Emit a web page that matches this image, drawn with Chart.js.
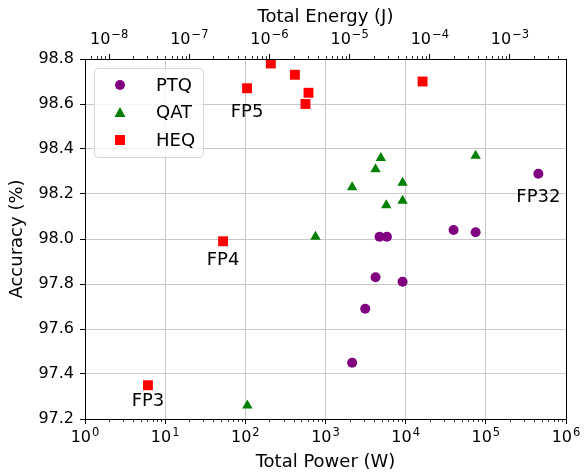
<!DOCTYPE html>
<html>
<head>
<meta charset="utf-8">
<script src="https://cdn.jsdelivr.net/npm/chart.js@4.4.1/dist/chart.umd.min.js"></script>
<style>
  html, body { margin: 0; padding: 0; background: #fff; }
  #wrap { width: 585px; height: 476px; }
</style>
</head>
<body>
<div id="wrap"><canvas id="chart" width="585" height="476"></canvas></div>
<script>
// values
const ptqPower = [2150, 3130, 4210, 4720, 5840, 9150, 39600, 74600, 452000];
const ptqAcc   = [97.45, 97.69, 97.83, 98.01, 98.01, 97.81, 98.04, 98.03, 98.29];

const qatPower = [106, 750, 2150, 4210, 4900, 5730, 9150, 9150, 74600];
const qatAcc   = [97.26, 98.01, 98.23, 98.31, 98.36, 98.15, 98.25, 98.17, 98.37];

const heqPower = [6.1, 52.8, 105, 208, 415, 563, 614, 16250];
const heqAcc   = [97.35, 97.99, 98.67, 98.78, 98.73, 98.60, 98.65, 98.70];

// labelled points: name, dataset index, point index
const fpNames  = ['FP32', 'FP5', 'FP4', 'FP3'];
const fpSeries = [0, 2, 2, 2];
const fpPoint  = [8, 2, 1, 0];

const powerTickExps  = [0, 1, 2, 3, 4, 5, 6];
const energyTickExps = [-8, -7, -6, -5, -4, -3];
const accTicks = [97.2, 97.4, 97.6, 97.8, 98.0, 98.2, 98.4, 98.6, 98.8];

// energy axis is power scaled by a constant factor
const energyPerWatt = 5e-9;

const toXY = (xs, ys) => xs.map((x, i) => ({ x: x, y: ys[i] }));

const FONT = "'DejaVu Sans', sans-serif";
Chart.defaults.font.family = FONT;
Chart.defaults.font.size = 16;
Chart.defaults.color = '#000';

const GRID = '#c8c8c8';

// "10" with a raised exponent, like matplotlib's mathtext labels
function drawPow10(ctx, x, baseline, exp) {
  const e = String(exp).replace('-', '\u2212');
  ctx.font = '16px ' + FONT;
  const wb = ctx.measureText('10').width;
  ctx.font = '11.5px ' + FONT;
  const we = ctx.measureText(e).width;
  const x0 = x - (wb + we + 1) / 2;
  ctx.font = '16px ' + FONT;
  ctx.fillText('10', x0, baseline);
  ctx.font = '11.5px ' + FONT;
  ctx.fillText(e, x0 + wb + 1, baseline - 6.5);
}

const powLabels = {
  id: 'powLabels',
  afterDraw(chart) {
    const ctx = chart.ctx;
    const a = chart.chartArea;
    ctx.save();
    ctx.fillStyle = '#000';
    ctx.textAlign = 'left';
    ctx.textBaseline = 'alphabetic';
    powerTickExps.forEach(e => {
      drawPow10(ctx, chart.scales.x.getPixelForValue(Math.pow(10, e)), a.bottom + 23, e);
    });
    energyTickExps.forEach(e => {
      drawPow10(ctx, chart.scales.x2.getPixelForValue(Math.pow(10, e)), a.top - 15, e);
    });
    ctx.restore();
  }
};

const minorTicks = {
  id: 'minorTicks',
  afterDraw(chart) {
    const ctx = chart.ctx;
    const area = chart.chartArea;
    const xs = chart.scales.x, ts = chart.scales.x2;
    ctx.save();
    ctx.strokeStyle = '#000';
    ctx.lineWidth = 0.8;
    ctx.beginPath();
    for (let k = -10; k <= 7; k++) {
      for (let m = 2; m <= 9; m++) {
        const v = m * Math.pow(10, k);
        if (v > xs.min && v < xs.max) {
          const p = Math.round(xs.getPixelForValue(v)) + 0.5;
          ctx.moveTo(p, area.bottom);
          ctx.lineTo(p, area.bottom + 3);
        }
        if (v > ts.min && v < ts.max) {
          const p = Math.round(ts.getPixelForValue(v)) + 0.5;
          ctx.moveTo(p, area.top);
          ctx.lineTo(p, area.top - 3);
        }
      }
    }
    ctx.stroke();
    ctx.restore();
  }
};

const frame = {
  id: 'frame',
  afterDraw(chart) {
    const ctx = chart.ctx;
    const a = chart.chartArea;
    ctx.save();
    ctx.strokeStyle = '#000';
    ctx.lineWidth = 1;
    ctx.strokeRect(Math.round(a.left) + 0.5, Math.round(a.top) + 0.5,
      Math.round(a.right - a.left), Math.round(a.bottom - a.top));
    ctx.restore();
  }
};

const fpText = {
  id: 'fpText',
  afterDatasetsDraw(chart) {
    const ctx = chart.ctx;
    const dy = { FP32: 24, FP5: 24, FP4: 19, FP3: 16 };
    ctx.save();
    ctx.font = '18px ' + FONT;
    ctx.fillStyle = '#000';
    ctx.textAlign = 'center';
    ctx.textBaseline = 'middle';
    fpNames.forEach((name, i) => {
      const el = chart.getDatasetMeta(fpSeries[i]).data[fpPoint[i]];
      ctx.fillText(name, el.x, el.y + dy[name]);
    });
    ctx.restore();
  }
};

const boxLegend = {
  id: 'boxLegend',
  afterDraw(chart) {
    const ctx = chart.ctx;
    const x0 = 94, y0 = 68, w = 109, h = 89, r = 4;
    ctx.save();
    ctx.beginPath();
    ctx.roundRect(x0 + 0.5, y0 + 0.5, w, h, r);
    ctx.fillStyle = 'rgba(255,255,255,0.8)';
    ctx.fill();
    ctx.strokeStyle = '#d6d6d6';
    ctx.lineWidth = 1;
    ctx.stroke();
    ctx.font = '18px ' + FONT;
    ctx.textAlign = 'left';
    ctx.textBaseline = 'middle';
    chart.data.datasets.forEach((ds, i) => {
      const cy = 85 + i * 27.5, cx = 120;
      ctx.fillStyle = ds.backgroundColor;
      ctx.beginPath();
      if (ds.pointStyle === 'circle') {
        ctx.arc(cx, cy, 5, 0, Math.PI * 2);
      } else if (ds.pointStyle === 'triangle') {
        ctx.moveTo(cx, cy - 5.5);
        ctx.lineTo(cx - 5.5, cy + 4.5);
        ctx.lineTo(cx + 5.5, cy + 4.5);
        ctx.closePath();
      } else {
        ctx.rect(cx - 5, cy - 5, 10, 10);
      }
      ctx.fill();
      ctx.fillStyle = '#000';
      ctx.fillText(ds.label, 156, cy + 1);
    });
    ctx.restore();
  }
};

new Chart(document.getElementById('chart'), {
  type: 'scatter',
  data: {
    datasets: [
      { label: 'PTQ', data: toXY(ptqPower, ptqAcc), pointStyle: 'circle', pointRadius: 5,
        backgroundColor: '#800080', borderColor: '#800080', borderWidth: 0 },
      { label: 'QAT', data: toXY(qatPower, qatAcc), pointStyle: 'triangle', pointRadius: 6,
        backgroundColor: '#008000', borderColor: '#008000', borderWidth: 0 },
      { label: 'HEQ', data: toXY(heqPower, heqAcc), pointStyle: 'rect', pointRadius: 7,
        backgroundColor: '#ff0000', borderColor: '#ff0000', borderWidth: 0 }
    ]
  },
  options: {
    responsive: false,
    animation: false,
    devicePixelRatio: 1,
    layout: { padding: { left: 0, right: 19, top: 0, bottom: 0 } },
    plugins: { legend: { display: false }, tooltip: { enabled: false } },
    scales: {
      x: {
        type: 'logarithmic',
        position: 'bottom',
        min: Math.pow(10, powerTickExps[0]),
        max: Math.pow(10, powerTickExps[powerTickExps.length - 1]),
        afterBuildTicks: s => { s.ticks = powerTickExps.map(e => ({ value: Math.pow(10, e) })); },
        afterFit: s => { s.height = 57; },
        border: { display: false },
        grid: { color: GRID, lineWidth: 1, tickColor: '#000', tickLength: 5 },
        ticks: { display: false },
        title: { display: true, text: 'Total Power (W)', font: { size: 18 }, padding: { top: 0, bottom: 3 } }
      },
      x2: {
        type: 'logarithmic',
        position: 'top',
        min: Math.pow(10, powerTickExps[0]) * energyPerWatt,
        max: Math.pow(10, powerTickExps[powerTickExps.length - 1]) * energyPerWatt,
        afterBuildTicks: s => { s.ticks = energyTickExps.map(e => ({ value: Math.pow(10, e) })); },
        afterFit: s => { s.height = 59; },
        border: { display: false },
        grid: { drawOnChartArea: false, tickColor: '#000', tickLength: 5 },
        ticks: { display: false },
        title: { display: true, text: 'Total Energy (J)', font: { size: 18 }, padding: { top: 7, bottom: 0 } }
      },
      y: {
        type: 'linear',
        position: 'left',
        min: accTicks[0],
        max: accTicks[accTicks.length - 1],
        afterBuildTicks: s => { s.ticks = accTicks.map(v => ({ value: v })); },
        afterFit: s => { s.width = 85; },
        border: { display: false },
        grid: { color: GRID, lineWidth: 1, tickColor: '#000', tickLength: 5 },
        ticks: { callback: v => Number(v).toFixed(1), autoSkip: false, padding: 6, font: { size: 16 } },
        title: { display: true, text: 'Accuracy (%)', font: { size: 18 }, padding: { top: 7, bottom: 0 } }
      }
    }
  },
  plugins: [fpText, minorTicks, powLabels, boxLegend, frame]
});
</script>
</body>
</html>
